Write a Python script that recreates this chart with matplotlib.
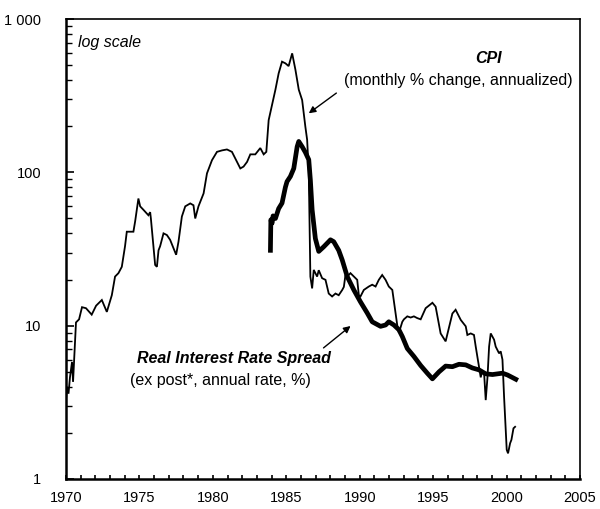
import matplotlib
matplotlib.use("Agg")
import matplotlib.pyplot as plt
from matplotlib.ticker import FixedLocator, FixedFormatter, NullFormatter

plt.rcParams['font.family'] = ['Liberation Sans', 'DejaVu Sans']

# CPI, monthly % change annualized (thin line)
cpi_year = [1970.0, 1970.07, 1970.17, 1970.27, 1970.41, 1970.48, 1970.68, 1970.89, 1971.09, 1971.36,
            1971.75, 1972.05, 1972.44, 1972.78, 1973.12, 1973.34, 1973.57, 1973.8, 1973.91, 1974.02,
            1974.14, 1974.59, 1974.71, 1974.93, 1975.05, 1975.27, 1975.61, 1975.73, 1975.78, 1975.96,
            1976.07, 1976.19, 1976.3, 1976.41, 1976.64, 1976.87, 1977.09, 1977.32, 1977.5, 1977.66,
            1977.89, 1978.12, 1978.46, 1978.68, 1978.8, 1979.02, 1979.37, 1979.6, 1979.94, 1980.28,
            1980.62, 1980.96, 1981.3, 1981.64, 1981.87, 1982.09, 1982.33, 1982.55, 1982.89, 1983.23,
            1983.46, 1983.64, 1983.8, 1984.03, 1984.26, 1984.48, 1984.71, 1984.94, 1985.16, 1985.4,
            1985.62, 1985.85, 1986.08, 1986.3, 1986.42, 1986.53, 1986.6, 1986.64, 1986.76, 1986.87,
            1987.1, 1987.21, 1987.44, 1987.67, 1987.89, 1988.12, 1988.35, 1988.57, 1988.81, 1988.92,
            1989.03, 1989.15, 1989.37, 1989.6, 1989.83, 1989.94, 1990.05, 1990.28, 1990.62, 1990.85,
            1991.08, 1991.3, 1991.53, 1991.76, 1991.98, 1992.22, 1992.44, 1992.56, 1992.67, 1992.9,
            1993.01, 1993.24, 1993.47, 1993.69, 1993.92, 1994.15, 1994.49, 1994.95, 1995.17, 1995.51,
            1995.85, 1996.31, 1996.53, 1996.88, 1997.22, 1997.33, 1997.56, 1997.78, 1997.9, 1998.12,
            1998.24, 1998.35, 1998.47, 1998.58, 1998.7, 1998.81, 1998.92, 1999.15, 1999.26, 1999.49,
            1999.6, 1999.72, 1999.83, 1999.95, 2000.01, 2000.1, 2000.24, 2000.33, 2000.47, 2000.58]
cpi_value = [3.3, 4.0, 3.6, 4.6, 5.8, 4.3, 10.5, 11.0, 13.2, 13.0,
             11.8, 13.5, 14.7, 12.3, 15.8, 20.9, 22.0, 24.2, 28.2, 33.0,
             41.0, 41.0, 48.0, 67.5, 60.0, 57.0, 52.5, 55.0, 50.0, 32.7,
             24.9, 24.2, 31.0, 33.0, 40.0, 39.0, 36.3, 32.0, 29.0, 35.3,
             51.5, 60.0, 62.7, 61.0, 50.0, 60.0, 72.9, 98.5, 120.0, 136.0,
             139.0, 141.0, 136.0, 117.0, 106.0, 109.0, 117.0, 131.0, 131.0, 144.0,
             131.0, 136.0, 219.0, 276.0, 346.0, 442.0, 527.0, 514.0, 493.0, 597.0,
             468.0, 346.0, 296.0, 198.0, 163.0, 101.0, 36.0, 20.9, 17.5, 23.1,
             20.9, 23.0, 20.4, 19.9, 16.2, 15.5, 16.2, 15.8, 17.1, 17.9,
             21.4, 20.9, 22.0, 20.9, 19.9, 15.8, 15.5, 17.1, 18.0, 18.5,
             18.0, 19.9, 21.4, 19.9, 18.0, 17.1, 12.0, 10.0, 9.0, 10.6,
             11.0, 11.5, 11.3, 11.5, 11.2, 11.0, 13.0, 14.1, 13.3, 8.9,
             7.9, 12.0, 12.7, 10.9, 9.9, 8.7, 8.9, 8.7, 7.3, 5.4,
             4.6, 5.1, 4.9, 3.27, 4.6, 7.3, 8.9, 8.1, 7.3, 6.6,
             6.8, 6.0, 3.44, 1.99, 1.55, 1.47, 1.71, 1.8, 2.14, 2.19]

# Real interest rate spread, ex post, annual rate % (thick line)
spread_year = [1983.92, 1983.95, 1984.03, 1984.1, 1984.26, 1984.48, 1984.71, 1984.94, 1985.05, 1985.28,
               1985.51, 1985.74, 1985.85, 1986.08, 1986.3, 1986.53, 1986.64, 1986.76, 1986.98, 1987.21,
               1987.55, 1988.01, 1988.23, 1988.57, 1988.81, 1989.15, 1989.6, 1990.05, 1990.51, 1990.85,
               1991.42, 1991.76, 1991.98, 1992.33, 1992.67, 1992.9, 1993.24, 1993.69, 1994.15, 1994.6,
               1994.95, 1995.4, 1995.85, 1996.31, 1996.76, 1997.22, 1997.67, 1998.12, 1998.58, 1999.04,
               1999.72, 2000.06, 2000.63]
spread_value = [31.0, 49.0, 46.6, 52.0, 50.0, 58.0, 63.0, 80.0, 87.0, 94.0,
                106.0, 147.0, 159.0, 147.0, 135.0, 121.0, 89.0, 57.0, 37.0, 30.5,
                32.7, 36.3, 35.3, 31.0, 26.8, 20.9, 17.1, 14.3, 12.1, 10.6,
                9.9, 10.1, 10.6, 10.1, 9.4, 8.5, 7.1, 6.3, 5.5, 4.9,
                4.5, 5.0, 5.45, 5.4, 5.6, 5.55, 5.3, 5.15, 4.85, 4.8,
                4.9, 4.77, 4.47]

x_major = [1970, 1975, 1980, 1985, 1990, 1995, 2000, 2005]
x_labels = ["1970", "1975", "1980", "1985", "1990", "1995", "2000", "2005"]
y_major = [1, 10, 100, 1000]
y_labels = ["1", "10", "100", "1 000"]

fig = plt.figure(figsize=(6.0, 5.09), dpi=100)
ax = fig.add_axes([66 / 600, 30 / 509, (580 - 66) / 600, (479 - 19) / 509])

ax.plot(cpi_year, cpi_value, color="black", lw=1.3, solid_joinstyle="miter")
ax.plot(spread_year, spread_value, color="black", lw=3.4, solid_joinstyle="round")

ax.set_yscale("log")
ax.set_xlim(1970, 2005)
ax.set_ylim(1, 1000)

ax.xaxis.set_major_locator(FixedLocator(x_major))
ax.xaxis.set_major_formatter(FixedFormatter(x_labels))
ax.xaxis.set_minor_locator(FixedLocator(list(range(1970, 2006))))
ax.yaxis.set_major_locator(FixedLocator(y_major))
ax.yaxis.set_major_formatter(FixedFormatter(y_labels))
ax.yaxis.set_minor_locator(FixedLocator([m * d for d in (1, 10, 100) for m in range(2, 10)]))
ax.yaxis.set_minor_formatter(NullFormatter())

ax.tick_params(axis="x", which="both", direction="in", length=3, width=1.2,
               labelsize=10.5, pad=9, top=False)
ax.tick_params(axis="y", which="major", direction="in", length=6, width=1.2,
               labelsize=10.5, pad=18, right=False)
ax.tick_params(axis="y", which="minor", direction="in", length=4, width=1.0, right=False)

for side in ("left", "bottom"):
    ax.spines[side].set_linewidth(1.8)
for side in ("top", "right"):
    ax.spines[side].set_linewidth(1.2)

ax.text(0.0234, 0.95, "log scale", transform=ax.transAxes, fontsize=11.5,
        style="italic", ha="left", va="center")
ax.text(0.8226, 0.915, "CPI", transform=ax.transAxes, fontsize=11.5,
        style="italic", weight="bold", ha="center", va="center")
ax.text(0.763, 0.867, "(monthly % change, annualized)", transform=ax.transAxes,
        fontsize=11.5, ha="center", va="center")
ax.text(0.3275, 0.263, "Real Interest Rate Spread", transform=ax.transAxes,
        fontsize=11.5, style="italic", weight="bold", ha="center", va="center")
ax.text(0.301, 0.215, "(ex post*, annual rate, %)", transform=ax.transAxes,
        fontsize=11.5, ha="center", va="center")

ax.annotate("", xy=(0.4723, 0.795), xytext=(0.526, 0.839), xycoords="axes fraction",
            arrowprops=dict(arrowstyle="-|>", color="black", lw=1.0,
                            mutation_scale=10, shrinkA=0, shrinkB=0))
ax.annotate("", xy=(0.5536, 0.3326), xytext=(0.501, 0.285), xycoords="axes fraction",
            arrowprops=dict(arrowstyle="-|>", color="black", lw=1.0,
                            mutation_scale=10, shrinkA=0, shrinkB=0))

fig.savefig("out.png", dpi=100)
